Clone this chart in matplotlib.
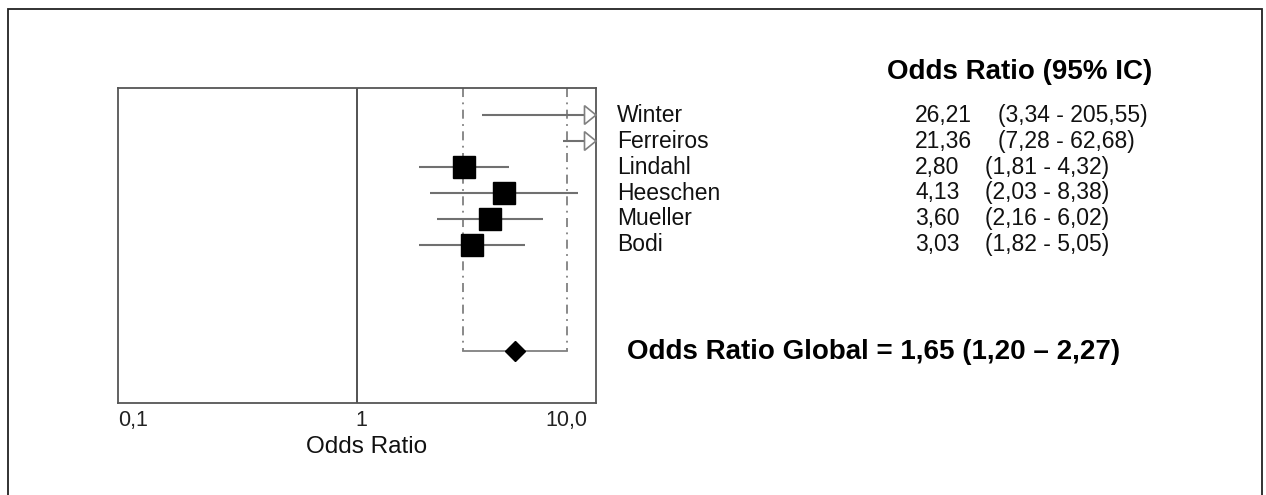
import matplotlib
matplotlib.use("Agg")
import matplotlib.pyplot as plt
import matplotlib.transforms as mtransforms
from matplotlib.patches import Polygon, Rectangle

plt.rcParams['font.family'] = ['Liberation Sans', 'DejaVu Sans']

# ---------------- data ----------------
studies = ["Winter", "Ferreiros", "Lindahl", "Heeschen", "Mueller", "Bodi"]
or_vals = [26.21, 21.36, 2.80, 4.13, 3.60, 3.03]
ci_low = [3.34, 7.28, 1.81, 2.03, 2.16, 1.82]
ci_high = [205.55, 62.68, 4.32, 8.38, 6.02, 5.05]
or_text = ["26,21", "21,36", "2,80", "4,13", "3,60", "3,03"]
ci_text = ["(3,34 - 205,55)", "(7,28 - 62,68)", "(1,81 - 4,32)",
           "(2,03 - 8,38)", "(2,16 - 6,02)", "(1,82 - 5,05)"]
# pooled estimate as drawn in the picture
pooled_or = 4.58
pooled_low = 2.77
pooled_high = 7.56
global_text = "Odds Ratio Global = 1,65 (1,20 \u2013 2,27)"
header_text = "Odds Ratio (95% IC)"
xticks = [0.1, 1, 10]
xtick_labels = ["0,1", "1", "10,0"]
xlabel = "Odds Ratio"

# ---------------- layout ----------------
W, H = 1266, 495
fig = plt.figure(figsize=(W / 100, H / 100), dpi=100)
fig.patch.set_facecolor("white")

# outer frame
fig.patches.append(Rectangle((8 / W, -0.05), (1262 - 8) / W, 1.05 - 9 / H,
                             transform=fig.transFigure, fill=False,
                             edgecolor="#222222", linewidth=1.3))

L, R, T, B = 118, 596, 88, 403
ax = fig.add_axes([L / W, 1 - B / H, (R - L) / W, (B - T) / H])
ax.set_xscale("log")
ax.set_xlim(0.1, 10)
rows = list(range(len(studies)))
pooled_row = 9.08
ax.set_ylim(11.08, -1.04)

xmax = 10
line_col = "#707070"
for r, o, lo, hi in zip(rows, or_vals, ci_low, ci_high):
    ax.plot([lo, min(hi, xmax)], [r, r], color=line_col, lw=1.5,
            solid_capstyle="butt", zorder=2)
    if o <= xmax:
        ax.plot([o], [r], marker="s", ms=16, color="black", zorder=4)
    if hi > xmax:
        tri = Polygon([[1 - 11.5 / (R - L), r - 0.36], [1.0, r],
                       [1 - 11.5 / (R - L), r + 0.36]], closed=True,
                      facecolor="white", edgecolor="#808080", lw=1.2,
                      transform=ax.get_yaxis_transform(), zorder=5,
                      clip_on=False)
        ax.add_patch(tri)

# pooled lines
dash = (0, (5, 3, 1, 3))
for xv in (pooled_low, pooled_high):
    ax.plot([xv, xv], [-1.04, pooled_row], color="#808080", lw=1.3,
            linestyle=dash, zorder=1)
ax.plot([pooled_low, pooled_high], [pooled_row, pooled_row],
        color="#808080", lw=1.3, zorder=2)
ax.plot([pooled_or], [pooled_row], marker="D", ms=9.8, color="black",
        zorder=4)

# null line
ax.axvline(1, color="#444444", lw=1.3, zorder=1)

for s in ax.spines.values():
    s.set_color("#555555")
    s.set_linewidth(1.3)

ax.set_yticks([])
ax.set_xticks(xticks)
ax.set_xticklabels(xtick_labels, fontsize=15.5)
ax.xaxis.set_minor_locator(matplotlib.ticker.NullLocator())
ax.tick_params(axis="x", length=0, pad=5, colors="#222222")
labs = ax.get_xticklabels()
labs[0].set_horizontalalignment("left")
labs[1].set_horizontalalignment("left")
labs[2].set_horizontalalignment("right")
labs[1].set_x(1)
# small offsets to match the picture
offs = [0, -2, -9]
for lab, dx in zip(labs, offs):
    lab.set_transform(lab.get_transform() +
                      mtransforms.ScaledTranslation(dx / 100, 0, fig.dpi_scale_trans))

fig.text(367 / W, 1 - 447 / H, xlabel, fontsize=17.5, ha="center",
         va="center", color="#111111")

# right-hand text
tr = mtransforms.blended_transform_factory(fig.transFigure, ax.transData)
for i, (name, ot, ct) in enumerate(zip(studies, or_text, ci_text)):
    fig.text(617 / W, rows[i], name, fontsize=16.5, va="center",
             ha="left", transform=tr, color="#111111")
    fig.text(915 / W, rows[i], ot, fontsize=16.5, va="center",
             ha="left", transform=tr, color="#111111")
    cx = 998 if len(ot) > 4 else 985
    fig.text(cx / W, rows[i], ct, fontsize=16.5, va="center",
             ha="left", transform=tr, color="#111111")

fig.text(887 / W, 1 - 72 / H, header_text, fontsize=20, fontweight="bold",
         va="center", ha="left", color="black")
fig.text(627 / W, 1 - 352 / H, global_text, fontsize=20, fontweight="bold",
         va="center", ha="left", color="black")

fig.savefig("out.png", dpi=100, facecolor="white")
